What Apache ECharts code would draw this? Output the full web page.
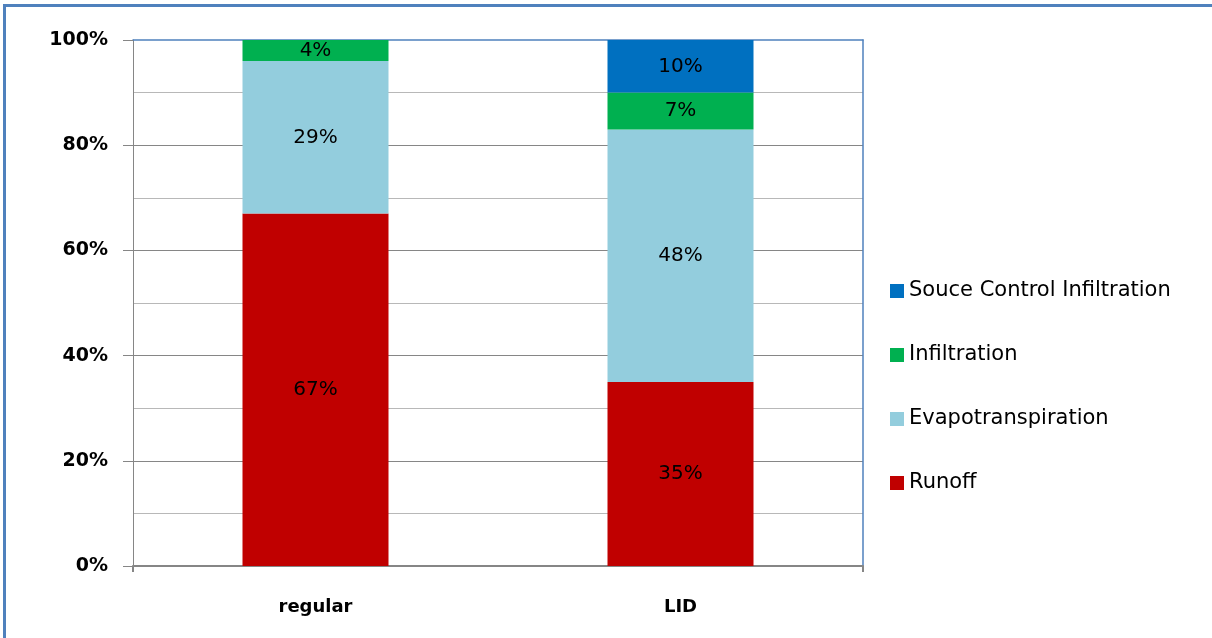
<!DOCTYPE html>
<html>
<head>
<meta charset="utf-8">
<title>Water balance: regular vs LID</title>
<script src="https://cdn.jsdelivr.net/npm/echarts@6/dist/echarts.min.js"></script>
<style>
  html, body { margin: 0; padding: 0; background: #ffffff; }
  #chart { width: 1212px; height: 638px; }
</style>
</head>
<body>
<div id="chart"></div>
<script>
// Categories and the share (%) of each water-balance component
const categories = ['regular', 'LID'];
const runoff = [67, 35];
const evapotranspiration = [29, 48];
const infiltration = [4, 7];
const sourceControlInfiltration = [0, 10];
const yTicks = { min: 0, max: 100, step: 20 };

const seriesNames = ['Runoff', 'Evapotranspiration', 'Infiltration', 'Souce Control Infiltration'];
const seriesValues = [runoff, evapotranspiration, infiltration, sourceControlInfiltration];
const seriesColors = ['#c00000', '#93cddd', '#00b050', '#0070c0'];

const chart = echarts.init(document.getElementById('chart'), null, { renderer: 'canvas' });

const series = seriesNames.map((name, i) => ({
  name: name,
  type: 'bar',
  stack: 'total',
  barWidth: 146,
  xAxisIndex: 0,
  yAxisIndex: 0,
  data: seriesValues[i],
  itemStyle: { color: seriesColors[i] },
  label: {
    show: true,
    position: 'inside',
    fontFamily: 'DejaVu Sans',
    fontSize: 20,
    color: '#000000',
    formatter: p => (p.value ? p.value + '%' : '')
  }
}));

// plain blue frame lines for the top and right edges of the plot
const frameLine = { show: true, onZero: false, lineStyle: { color: '#4f81bd', width: 1.5 } };

chart.setOption({
  animation: false,
  backgroundColor: '#ffffff',
  graphic: [{
    type: 'rect',
    silent: true,
    shape: { x: 4.5, y: 5.5, width: 1400, height: 900 },
    style: { fill: 'none', stroke: '#4f81bd', lineWidth: 3 }
  }],
  grid: { left: 133, right: 349, top: 40, bottom: 72 },
  legend: {
    orient: 'vertical',
    left: 885,
    top: 275,
    icon: 'rect',
    itemWidth: 14,
    itemHeight: 14,
    itemGap: 42,
    data: ['Souce Control Infiltration', 'Infiltration', 'Evapotranspiration', 'Runoff'],
    textStyle: {
      fontFamily: 'DejaVu Sans',
      fontSize: 21,
      lineHeight: 22,
      color: '#000000'
    }
  },
  xAxis: [{
    type: 'category',
    data: categories,
    axisLine: { lineStyle: { color: '#868686', width: 2 } },
    // only the two outer ends of the axis carry a tick
    axisTick: { show: true, length: 6, interval: (index) => index === 0, lineStyle: { color: '#868686', width: 2 } },
    axisLabel: {
      fontFamily: 'DejaVu Sans',
      fontWeight: 'bold',
      fontSize: 18,
      color: '#000000',
      margin: 32
    }
  }, {
    type: 'category',
    position: 'top',
    data: categories,
    axisLine: frameLine,
    axisTick: { show: false },
    axisLabel: { show: false }
  }],
  yAxis: [{
    type: 'value',
    min: yTicks.min,
    max: yTicks.max,
    interval: yTicks.step,
    axisLine: { show: true, lineStyle: { color: '#868686', width: 1 } },
    axisTick: { show: true, length: 10, lineStyle: { color: '#868686', width: 1 } },
    axisLabel: {
      formatter: '{value}%',
      fontFamily: 'DejaVu Sans',
      fontWeight: 'bold',
      fontSize: 19,
      color: '#000000',
      margin: 25
    },
    splitLine: { show: true, showMaxLine: false, lineStyle: { color: '#868686', width: 1 } },
    minorTick: { show: false, splitNumber: 2 },
    minorSplitLine: { show: true, lineStyle: { color: '#b8b8b8', width: 1 } }
  }, {
    type: 'value',
    position: 'right',
    min: yTicks.min,
    max: yTicks.max,
    interval: yTicks.step,
    axisLine: frameLine,
    axisTick: { show: false },
    axisLabel: { show: false },
    splitLine: { show: false }
  }],
  series: series
});
</script>
</body>
</html>
